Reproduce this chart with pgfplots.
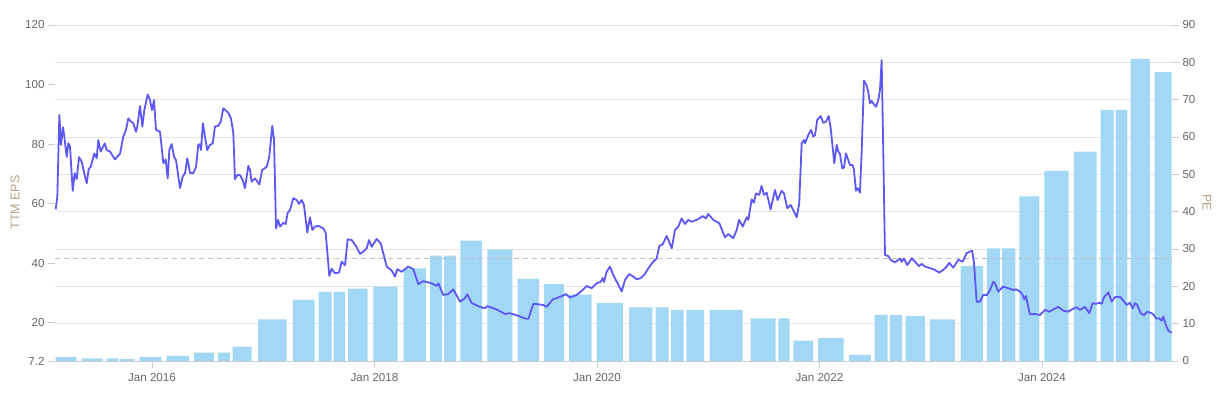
\documentclass[border=0pt]{standalone}
\usepackage{pgfplots}
\pgfplotsset{compat=1.18}
\usepackage{fontspec}
\setmainfont{Liberation Sans}
\definecolor{barblue}{RGB}{162,216,245}
\definecolor{linecol}{RGB}{92,87,245}
\definecolor{gridgray}{RGB}{228,228,228}
\definecolor{tickgray}{RGB}{204,204,204}
\definecolor{labgray}{RGB}{102,102,102}
\definecolor{titlecol}{RGB}{185,160,135}
\definecolor{dashgray}{RGB}{190,190,190}
\pgfplotsset{
  barsty/.style={fill=barblue, draw=none},
  common/.style={
    scale only axis, width=1117pt, height=336pt,
    xmin=2015.128, xmax=2025.169,
    tick align=outside,
    major tick length=7pt,
    tick style={draw=tickgray, line width=0.8pt},
    tick label style={font=\fontsize{11.6}{13}\selectfont, text=labgray},
    /pgf/number format/assume math mode=true,
    clip=true,
  }
}
\begin{document}
\begin{tikzpicture}
\path[use as bounding box] (-55pt,-37pt) rectangle (1171pt,361pt);
\begin{axis}[common,
  ymin=7.2, ymax=120,
  axis x line*=bottom, axis y line*=left,
  x axis line style={draw=tickgray, line width=0.9pt, -},
  y axis line style={draw=none},
  xtick={2016,2018,2020,2022,2024},
  xticklabels={Jan 2016,Jan 2018,Jan 2020,Jan 2022,Jan 2024},
  ytick={7.2,20,40,60,80,100,120},
  extra y ticks={19.733,32.267,44.8,57.333,69.867,82.4,94.933,107.467,120},
  extra y tick labels={},
  extra y tick style={grid=major, major tick length=0pt},
  major grid style={draw=gridgray, line width=0.8pt},
  xticklabel style={yshift=-2pt},
]
\addplot[barsty] coordinates {(2015.134,7.2) (2015.134,8.5) (2015.323,8.5) (2015.323,7.2)} \closedcycle;
\addplot[barsty] coordinates {(2015.368,7.2) (2015.368,8.1) (2015.557,8.1) (2015.557,7.2)} \closedcycle;
\addplot[barsty] coordinates {(2015.593,7.2) (2015.593,8.1) (2015.701,8.1) (2015.701,7.2)} \closedcycle;
\addplot[barsty] coordinates {(2015.712,7.2) (2015.712,7.8) (2015.841,7.8) (2015.841,7.2)} \closedcycle;
\addplot[barsty] coordinates {(2015.886,7.2) (2015.886,8.5) (2016.087,8.5) (2016.087,7.2)} \closedcycle;
\addplot[barsty] coordinates {(2016.132,7.2) (2016.132,8.9) (2016.333,8.9) (2016.333,7.2)} \closedcycle;
\addplot[barsty] coordinates {(2016.378,7.2) (2016.378,10.0) (2016.557,10.0) (2016.557,7.2)} \closedcycle;
\addplot[barsty] coordinates {(2016.593,7.2) (2016.593,10.0) (2016.701,10.0) (2016.701,7.2)} \closedcycle;
\addplot[barsty] coordinates {(2016.725,7.2) (2016.725,12.0) (2016.896,12.0) (2016.896,7.2)} \closedcycle;
\addplot[barsty] coordinates {(2016.955,7.2) (2016.955,21.2) (2017.211,21.2) (2017.211,7.2)} \closedcycle;
\addplot[barsty] coordinates {(2017.267,7.2) (2017.267,27.7) (2017.462,27.7) (2017.462,7.2)} \closedcycle;
\addplot[barsty] coordinates {(2017.498,7.2) (2017.498,30.4) (2017.615,30.4) (2017.615,7.2)} \closedcycle;
\addplot[barsty] coordinates {(2017.633,7.2) (2017.633,30.4) (2017.735,30.4) (2017.735,7.2)} \closedcycle;
\addplot[barsty] coordinates {(2017.764,7.2) (2017.764,31.5) (2017.939,31.5) (2017.939,7.2)} \closedcycle;
\addplot[barsty] coordinates {(2017.989,7.2) (2017.989,32.2) (2018.209,32.2) (2018.209,7.2)} \closedcycle;
\addplot[barsty] coordinates {(2018.262,7.2) (2018.262,38.3) (2018.463,38.3) (2018.463,7.2)} \closedcycle;
\addplot[barsty] coordinates {(2018.499,7.2) (2018.499,42.6) (2018.609,42.6) (2018.609,7.2)} \closedcycle;
\addplot[barsty] coordinates {(2018.627,7.2) (2018.627,42.6) (2018.733,42.6) (2018.733,7.2)} \closedcycle;
\addplot[barsty] coordinates {(2018.771,7.2) (2018.771,47.6) (2018.966,47.6) (2018.966,7.2)} \closedcycle;
\addplot[barsty] coordinates {(2019.014,7.2) (2019.014,44.6) (2019.239,44.6) (2019.239,7.2)} \closedcycle;
\addplot[barsty] coordinates {(2019.287,7.2) (2019.287,34.8) (2019.481,34.8) (2019.481,7.2)} \closedcycle;
\addplot[barsty] coordinates {(2019.524,7.2) (2019.524,33.0) (2019.703,33.0) (2019.703,7.2)} \closedcycle;
\addplot[barsty] coordinates {(2019.748,7.2) (2019.748,29.5) (2019.952,29.5) (2019.952,7.2)} \closedcycle;
\addplot[barsty] coordinates {(2019.997,7.2) (2019.997,26.6) (2020.236,26.6) (2020.236,7.2)} \closedcycle;
\addplot[barsty] coordinates {(2020.290,7.2) (2020.290,25.2) (2020.497,25.2) (2020.497,7.2)} \closedcycle;
\addplot[barsty] coordinates {(2020.528,7.2) (2020.528,25.2) (2020.644,25.2) (2020.644,7.2)} \closedcycle;
\addplot[barsty] coordinates {(2020.665,7.2) (2020.665,24.4) (2020.779,24.4) (2020.779,7.2)} \closedcycle;
\addplot[barsty] coordinates {(2020.803,7.2) (2020.803,24.4) (2020.964,24.4) (2020.964,7.2)} \closedcycle;
\addplot[barsty] coordinates {(2021.013,7.2) (2021.013,24.4) (2021.310,24.4) (2021.310,7.2)} \closedcycle;
\addplot[barsty] coordinates {(2021.382,7.2) (2021.382,21.5) (2021.606,21.5) (2021.606,7.2)} \closedcycle;
\addplot[barsty] coordinates {(2021.630,7.2) (2021.630,21.5) (2021.732,21.5) (2021.732,7.2)} \closedcycle;
\addplot[barsty] coordinates {(2021.765,7.2) (2021.765,14.0) (2021.944,14.0) (2021.944,7.2)} \closedcycle;
\addplot[barsty] coordinates {(2021.989,7.2) (2021.989,14.9) (2022.218,14.9) (2022.218,7.2)} \closedcycle;
\addplot[barsty] coordinates {(2022.265,7.2) (2022.265,9.2) (2022.463,9.2) (2022.463,7.2)} \closedcycle;
\addplot[barsty] coordinates {(2022.496,7.2) (2022.496,22.6) (2022.613,22.6) (2022.613,7.2)} \closedcycle;
\addplot[barsty] coordinates {(2022.634,7.2) (2022.634,22.6) (2022.744,22.6) (2022.744,7.2)} \closedcycle;
\addplot[barsty] coordinates {(2022.775,7.2) (2022.775,22.3) (2022.948,22.3) (2022.948,7.2)} \closedcycle;
\addplot[barsty] coordinates {(2022.993,7.2) (2022.993,21.2) (2023.218,21.2) (2023.218,7.2)} \closedcycle;
\addplot[barsty] coordinates {(2023.269,7.2) (2023.269,39.1) (2023.472,39.1) (2023.472,7.2)} \closedcycle;
\addplot[barsty] coordinates {(2023.508,7.2) (2023.508,45.0) (2023.622,45.0) (2023.622,7.2)} \closedcycle;
\addplot[barsty] coordinates {(2023.643,7.2) (2023.643,45.0) (2023.760,45.0) (2023.760,7.2)} \closedcycle;
\addplot[barsty] coordinates {(2023.796,7.2) (2023.796,62.5) (2023.976,62.5) (2023.976,7.2)} \closedcycle;
\addplot[barsty] coordinates {(2024.021,7.2) (2024.021,71.0) (2024.240,71.0) (2024.240,7.2)} \closedcycle;
\addplot[barsty] coordinates {(2024.288,7.2) (2024.288,77.5) (2024.492,77.5) (2024.492,7.2)} \closedcycle;
\addplot[barsty] coordinates {(2024.528,7.2) (2024.528,91.5) (2024.645,91.5) (2024.645,7.2)} \closedcycle;
\addplot[barsty] coordinates {(2024.663,7.2) (2024.663,91.5) (2024.767,91.5) (2024.767,7.2)} \closedcycle;
\addplot[barsty] coordinates {(2024.797,7.2) (2024.797,108.5) (2024.971,108.5) (2024.971,7.2)} \closedcycle;
\addplot[barsty] coordinates {(2025.013,7.2) (2025.013,104.2) (2025.166,104.2) (2025.166,7.2)} \closedcycle;
\end{axis}
\begin{axis}[common,
  ymin=0, ymax=90,
  axis y line*=right, axis x line=none,
  y axis line style={draw=none},
  ytick={0,10,...,90},
]
\addplot[dashgray, line width=1.2pt, dash pattern=on 5pt off 4pt] coordinates {(2015.128,27.4) (2025.169,27.4)};
\addplot[linecol, line width=1.8pt, line join=round] coordinates {
(2015.134,40.6) (2015.149,44.0) (2015.167,65.9) (2015.182,57.9) (2015.200,62.6) (2015.212,60.1)
(2015.233,54.7) (2015.248,58.3) (2015.263,57.4) (2015.287,45.6) (2015.305,50.3) (2015.323,48.7)
(2015.344,54.6) (2015.368,53.4) (2015.391,50.3) (2015.413,47.6) (2015.431,51.4) (2015.449,52.0)
(2015.481,55.6) (2015.503,54.3) (2015.517,59.2) (2015.539,56.1) (2015.575,58.3) (2015.593,56.5)
(2015.622,56.1) (2015.667,54.0) (2015.712,55.5) (2015.742,60.1) (2015.766,61.9) (2015.787,65.0)
(2015.811,64.1) (2015.832,63.7) (2015.856,61.4) (2015.868,62.8) (2015.892,68.3) (2015.913,62.8)
(2015.931,67.2) (2015.961,71.4) (2015.982,69.9) (2016.000,67.2) (2016.018,69.9) (2016.036,61.9)
(2016.072,61.4) (2016.102,53.0) (2016.123,54.0) (2016.141,48.9) (2016.156,56.5) (2016.177,58.1)
(2016.198,54.7) (2016.216,53.8) (2016.252,46.3) (2016.276,49.4) (2016.297,50.3) (2016.317,54.3)
(2016.342,50.4) (2016.371,50.3) (2016.396,52.0) (2016.416,57.9) (2016.431,58.1) (2016.440,56.5)
(2016.458,63.7) (2016.476,60.1) (2016.497,56.5) (2016.521,57.9) (2016.546,58.3) (2016.566,62.8)
(2016.596,63.0) (2016.618,64.1) (2016.641,67.7) (2016.686,66.5) (2016.710,65.0) (2016.731,61.0)
(2016.746,48.7) (2016.767,49.8) (2016.791,49.8) (2016.815,48.5) (2016.836,46.3) (2016.866,52.3)
(2016.881,51.2) (2016.896,48.0) (2016.926,48.9) (2016.965,47.3) (2016.991,51.2) (2017.031,52.0)
(2017.054,54.7) (2017.081,63.0) (2017.097,59.2) (2017.115,35.5) (2017.133,37.8) (2017.151,36.0)
(2017.180,37.0) (2017.202,36.7) (2017.220,39.7) (2017.240,40.4) (2017.270,43.6) (2017.301,43.1)
(2017.321,42.1) (2017.346,43.1) (2017.366,41.8) (2017.396,34.4) (2017.420,38.5) (2017.441,35.1)
(2017.465,36.0) (2017.495,36.2) (2017.540,35.5) (2017.561,34.4) (2017.594,22.8) (2017.615,24.7)
(2017.645,23.5) (2017.681,23.7) (2017.705,26.6) (2017.735,25.7) (2017.759,32.6) (2017.795,32.4)
(2017.834,30.8) (2017.870,28.7) (2017.899,29.3) (2017.930,30.2) (2017.951,32.4) (2017.975,30.6)
(2018.020,32.7) (2018.056,31.5) (2018.110,25.3) (2018.155,24.2) (2018.184,22.6) (2018.205,24.6)
(2018.244,23.9) (2018.304,25.3) (2018.349,24.6) (2018.394,20.6) (2018.439,21.4) (2018.514,20.8)
(2018.559,20.1) (2018.574,20.8) (2018.618,17.7) (2018.663,17.9) (2018.708,19.2) (2018.769,15.9)
(2018.814,16.8) (2018.834,17.9) (2018.874,15.5) (2018.948,14.5) (2018.993,14.1) (2019.014,14.7)
(2019.099,13.8) (2019.173,12.6) (2019.218,12.8) (2019.293,12.1) (2019.353,11.4) (2019.383,11.3)
(2019.428,15.3) (2019.472,15.2) (2019.517,15.0) (2019.548,14.5) (2019.602,16.5) (2019.652,17.0)
(2019.683,17.4) (2019.721,17.9) (2019.757,17.0) (2019.818,17.7) (2019.863,18.8) (2019.907,20.1)
(2019.952,19.5) (2019.997,20.8) (2020.033,21.2) (2020.051,22.2) (2020.063,21.2) (2020.087,23.9)
(2020.117,25.3) (2020.147,23.0) (2020.192,20.4) (2020.222,18.6) (2020.252,21.7) (2020.290,23.3)
(2020.326,22.6) (2020.357,21.9) (2020.393,22.2) (2020.431,23.3) (2020.461,24.8) (2020.506,26.6)
(2020.537,27.5) (2020.560,30.8) (2020.591,31.3) (2020.627,33.5) (2020.672,30.2) (2020.701,35.1)
(2020.731,36.0) (2020.761,38.2) (2020.791,36.7) (2020.821,37.8) (2020.851,37.3) (2020.911,38.0)
(2020.950,38.8) (2020.980,38.2) (2021.000,39.4) (2021.045,37.8) (2021.100,36.9) (2021.151,33.1)
(2021.180,34.0) (2021.225,32.9) (2021.256,35.1) (2021.277,37.8) (2021.310,36.0) (2021.346,38.5)
(2021.360,37.8) (2021.391,43.3) (2021.411,42.4) (2021.429,44.9) (2021.459,44.5) (2021.480,46.9)
(2021.501,44.5) (2021.525,45.1) (2021.561,40.6) (2021.600,45.8) (2021.624,43.1) (2021.660,45.6)
(2021.681,44.9) (2021.711,40.9) (2021.741,41.8) (2021.765,40.4) (2021.795,38.5) (2021.818,42.2)
(2021.840,58.3) (2021.861,59.2) (2021.870,58.3) (2021.899,60.5) (2021.924,61.9) (2021.944,60.1)
(2021.960,60.5) (2021.980,64.6) (2022.011,65.6) (2022.034,63.8) (2022.058,64.1) (2022.083,65.6)
(2022.101,62.3) (2022.115,58.3) (2022.133,53.0) (2022.155,57.9) (2022.169,56.1) (2022.184,55.5)
(2022.205,51.6) (2022.220,51.8) (2022.238,55.6) (2022.259,53.8) (2022.274,52.5) (2022.298,52.5)
(2022.310,51.2) (2022.328,45.6) (2022.344,46.3) (2022.364,45.1) (2022.380,56.5) (2022.400,75.1)
(2022.425,73.7) (2022.439,72.1) (2022.454,69.0) (2022.469,69.7) (2022.484,69.0) (2022.508,68.1)
(2022.529,69.9) (2022.544,72.6) (2022.559,80.6) (2022.574,55.6) (2022.589,28.4) (2022.619,28.1)
(2022.640,27.1) (2022.679,26.4) (2022.708,27.1) (2022.724,27.4) (2022.739,26.6) (2022.760,27.4)
(2022.789,25.7) (2022.829,27.5) (2022.859,26.6) (2022.895,25.4) (2022.919,26.0) (2022.949,25.3)
(2022.979,25.0) (2023.023,24.6) (2023.077,23.7) (2023.113,24.4) (2023.144,25.3) (2023.167,26.3)
(2023.203,25.0) (2023.248,27.1) (2023.287,26.6) (2023.323,28.9) (2023.353,29.3) (2023.373,29.5)
(2023.389,26.2) (2023.413,15.9) (2023.443,15.9) (2023.472,17.7) (2023.503,17.6) (2023.533,19.0)
(2023.562,21.2) (2023.578,20.8) (2023.607,18.6) (2023.652,19.9) (2023.697,19.5) (2023.742,19.0)
(2023.766,19.2) (2023.802,18.6) (2023.827,17.7) (2023.841,16.5) (2023.856,17.4) (2023.892,12.5)
(2023.937,12.6) (2023.982,12.3) (2024.027,13.7) (2024.066,13.2) (2024.101,13.8) (2024.147,14.5)
(2024.192,13.5) (2024.237,13.2) (2024.267,13.8) (2024.312,14.4) (2024.342,13.7) (2024.387,14.5)
(2024.425,12.8) (2024.456,15.5) (2024.486,15.3) (2024.515,15.6) (2024.537,15.3) (2024.557,17.0)
(2024.596,18.4) (2024.627,15.9) (2024.656,17.1) (2024.701,17.2) (2024.731,16.2) (2024.762,15.0)
(2024.791,15.6) (2024.816,14.1) (2024.836,15.5) (2024.857,15.0) (2024.887,12.8) (2024.917,12.3)
(2024.946,13.2) (2024.986,12.8) (2025.007,12.3) (2025.025,11.4) (2025.054,11.4) (2025.076,10.8)
(2025.090,11.9) (2025.115,9.6) (2025.136,8.1) (2025.166,7.6)
};
\end{axis}
\node[rotate=90, text=titlecol, font=\fontsize{12.5}{14}\selectfont] at (-40pt,158.5pt) {TTM EPS};
\node[rotate=-90, text=titlecol, font=\fontsize{12.5}{14}\selectfont] at (1152pt,158pt) {PE};
\end{tikzpicture}
\end{document}
